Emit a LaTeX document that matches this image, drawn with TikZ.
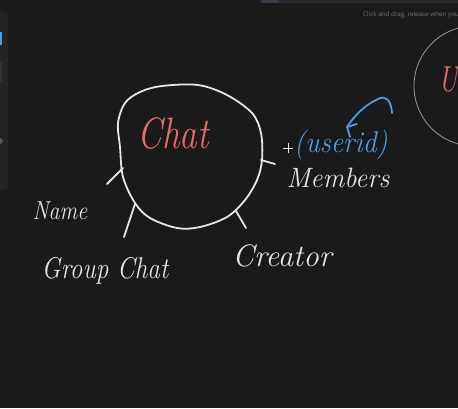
\documentclass[tikz,border=0pt]{standalone}
\usepackage{fontspec}
\newfontfamily\uifont{Open Sans}
\definecolor{bg}{HTML}{1A1A1A}
\definecolor{panel}{HTML}{232327}
\definecolor{topbar}{HTML}{2A2931}
\definecolor{topbarhi}{HTML}{3A3A48}
\definecolor{panelgray}{HTML}{2E2E33}
\definecolor{paneldot}{HTML}{555558}
\definecolor{hintgray}{HTML}{787878}
\definecolor{ink}{HTML}{E6E6E6}
\definecolor{redink}{HTML}{E86A6A}
\definecolor{blueink}{HTML}{4D9DE0}
\definecolor{faint}{HTML}{9A9A9A}
\tikzset{
  pen/.style={draw=ink, line width=1.8pt, line cap=round, line join=round},
  bluepen/.style={draw=blueink, line width=1.8pt, line cap=round, line join=round},
  label/.style={text=ink, inner sep=0pt, anchor=base},
}
\newcommand{\hw}[3]{\scalebox{#2}[1]{\fontsize{#1}{#1}\selectfont\itshape #3}}
\begin{document}
\begin{tikzpicture}[x=1pt,y=-1pt]
\useasboundingbox (0,0) rectangle (458,408);
\clip (0,0) rectangle (458,408);
\fill[bg] (0,0) rectangle (458,408);
% UI chrome
\fill[topbar] (260,-2) rectangle (460,3);
\fill[topbarhi] (262,-2) rectangle (278,3);
\fill[panel, rounded corners=4pt] (-10,12) rectangle (8,190);
\fill[blueink] (-2,32) rectangle (2,45);
\fill[panelgray] (-2,62) rectangle (2,82);
\fill[paneldot] (0,141) circle (3);
\node[anchor=base west, inner sep=0pt, text=hintgray] (hint) at (363,16) {\uifont\fontsize{6.3}{7}\selectfont Click and drag, release when you'r};
% User entity (partly visible)
\draw[faint, line width=0.8pt] (474,86) circle (60);
\node[anchor=base, inner sep=0pt, text=redink] (U) at (448,91) {\hw{36}{0.75}{U}};
% Chat entity
\draw[pen] plot[smooth cycle, tension=0.55] coordinates {
 (162,86) (198,85) (227,95) (252,113) (261,133) (262,160) (257,180) (245,200)
 (227,217) (200,227) (177,228) (150,218) (135,203) (123,177) (120,147)
 (118,123) (125,103) (140,92)};
\node[anchor=base, inner sep=0pt, text=redink] (chat) at (173,148) {\hw{44}{0.8}{Chat}};
% spokes
\coordinate (nameA) at (123,168); \coordinate (nameB) at (107,184);
\coordinate (grpA) at (135,204);  \coordinate (grpB) at (124,237);
\coordinate (creA) at (236,211);  \coordinate (creB) at (246,228);
\coordinate (memA) at (261,160);  \coordinate (memB) at (275,164);
\draw[pen] (nameA) -- (nameB);
\draw[pen] (grpA) -- (grpB);
\draw[pen] (creA) -- (creB);
\draw[pen] (memA) -- (memB);
% labels
\node[label] (name) at (60,219) {\hw{26}{0.85}{Name}};
\node[label] (group) at (105,278) {\hw{30}{0.84}{Group Chat}};
\node[label] (creator) at (282,266) {\hw{31}{1.0}{Creator}};
\node[label] (members) at (338,187) {\hw{28}{0.97}{Members}};
\node[label, text=blueink] (userid) at (341,152) {\hw{30}{0.92}{(userid)}};
% cursor
\coordinate (cur) at (288,148);
\draw[ink, line width=0.7pt] ([xshift=-5pt]cur) -- ([xshift=5pt]cur) ([yshift=-5pt]cur) -- ([yshift=5pt]cur);
% blue arrow
\coordinate (arS) at (392,113);
\coordinate (arE) at (347,127);
\draw[bluepen] (arS) .. controls (391,100) and (386,95) .. (378,99) .. controls (365,105) and (355,115) .. (arE);
\draw[bluepen] ([xshift=3pt,yshift=-10pt]arE) -- (arE) -- ([xshift=10pt,yshift=3pt]arE);
\end{tikzpicture}
\end{document}
